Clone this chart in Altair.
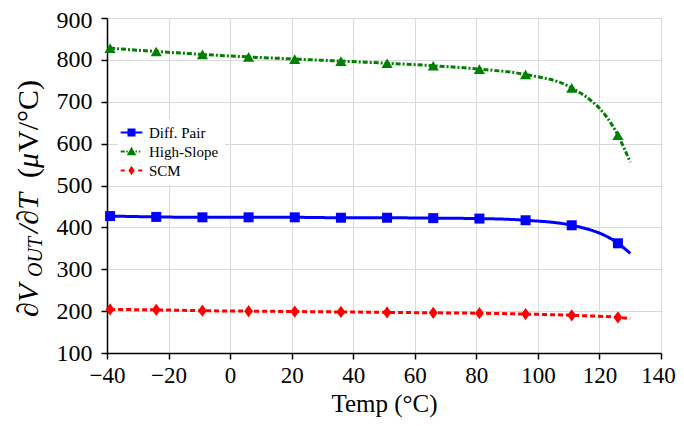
import altair as alt
import pandas as pd

# ---- data ----
temps = [-39, -24, -9, 6, 21, 36, 51, 66, 81, 96, 111, 126]
end_temp = 130
diff_pair = [427, 425, 424, 424, 424, 423, 423, 422, 421, 417, 405, 362]
diff_pair_end = 338
high_slope = [828, 820, 813, 807, 802, 797, 792, 786, 778, 765, 733, 620]
high_slope_end = 556
scm = [204, 203, 201, 200, 199, 198, 197, 196, 195, 193, 190, 185]
scm_end = 182

series = ["Diff. Pair", "High-Slope", "SCM"]
colors = ["#0000ff", "#008000", "#ff0000"]
x_ticks = [-40, -20, 0, 20, 40, 60, 80, 100, 120, 140]
y_ticks = [100, 200, 300, 400, 500, 600, 700, 800, 900]

values = {"Diff. Pair": (diff_pair, diff_pair_end),
          "High-Slope": (high_slope, high_slope_end),
          "SCM": (scm, scm_end)}

marker_rows, line_rows = [], []
for s in series:
    vals, endv = values[s]
    for t, v in zip(temps, vals):
        marker_rows.append({"temp": t, "val": v, "series": s})
        line_rows.append({"temp": t, "val": v, "series": s})
    line_rows.append({"temp": end_temp, "val": endv, "series": s})
markers = pd.DataFrame(marker_rows)
lines = pd.DataFrame(line_rows)

SERIF = "Liberation Serif"

xenc = alt.X("temp:Q", scale=alt.Scale(domain=[-40, 140], nice=False),
             axis=alt.Axis(values=x_ticks, title="Temp (°C)", labelPadding=5,
                           labelFontSize=23, labelFlush=False, titlePadding=4,
                           labelOffset={"condition": {"test": "datum.value == 140", "value": -3}, "value": 0}))
yenc = alt.Y("val:Q", scale=alt.Scale(domain=[100, 900], nice=False),
             axis=alt.Axis(values=y_ticks, title=None, labelPadding=9, labelFlush=False,
                           labelOffset={"condition": {"test": "datum.value == 900", "value": 2}, "value": 0}))

color_scale = alt.Scale(domain=series, range=colors)

line_layer = alt.Chart(lines).mark_line(strokeWidth=3, interpolate="monotone").encode(
    x=xenc, y=yenc,
    color=alt.Color("series:N", scale=color_scale, legend=None),
    strokeDash=alt.StrokeDash("series:N", scale=alt.Scale(domain=series, range=[[1, 0], [5, 2, 2, 2], [5, 3]]), legend=None),
    detail="series:N",
)

diamond = "M0,-1L0.72,0L0,1L-0.72,0Z"
point_layer = alt.Chart(markers).mark_point(filled=True, opacity=1).encode(
    x=xenc, y=yenc,
    color=alt.Color("series:N", scale=color_scale, legend=None),
    shape=alt.Shape("series:N", scale=alt.Scale(domain=series, range=["square", "triangle-up", diamond]), legend=None),
    size=alt.Size("series:N", scale=alt.Scale(domain=series, range=[100, 150, 150]), legend=None),
)

# legend symbols: line + marker drawn as one filled path
leg_blue = "M-2.17,-0.21H2.17V0.21H-2.17Z M-0.8,-0.8H0.8V0.8H-0.8Z"
leg_green = ("M-2.17,-0.21H-1.35V0.21H-2.17Z M-1.05,-0.21H-0.75V0.21H-1.05Z "
             "M0,-0.95L0.95,0.75L-0.95,0.75Z M0.8,-0.21H1.1V0.21H0.8Z M1.45,-0.21H1.75V0.21H1.45Z")
leg_red = ("M-2.17,-0.21H-1.35V0.21H-2.17Z M0,-0.95L0.62,0L0,0.95L-0.62,0Z "
           "M1.35,-0.21H2.17V0.21H1.35Z")

leg_props = dict(title=None, orient="none", legendX=11, legendY=101, fillColor="white",
                 padding=6, labelFont=SERIF, labelFontSize=15, labelColor="black",
                 labelOffset=10, rowPadding=3, symbolOpacity=1, symbolStrokeWidth=0)
legend_layer = alt.Chart(markers).mark_point(filled=True, opacity=0).encode(
    x=xenc, y=yenc,
    color=alt.Color("series:N", scale=color_scale, legend=alt.Legend(**leg_props)),
    shape=alt.Shape("series:N", scale=alt.Scale(domain=series, range=[leg_blue, leg_green, leg_red]),
                    legend=alt.Legend(**leg_props)),
    size=alt.value(144),
)

one = pd.DataFrame({"k": [0]})


def title_piece(txt, x, y, size, style):
    return alt.Chart(one).mark_text(text=txt, angle=270, align="left", baseline="alphabetic",
                                    font=SERIF, fontSize=size, fontStyle=style, color="black").encode(
        x=alt.value(x), y=alt.value(y))


pieces = [
    title_piece("∂V", -69, 299, 30, "italic"),
    title_piece("OUT", -65, 259, 20, "italic"),
    title_piece("/∂T", -69, 215, 30, "italic"),
    title_piece("(", -69, 160, 30, "normal"),
    title_piece("μ", -69, 150, 30, "italic"),
    title_piece("V/°C)", -69, 134, 30, "normal"),
]

chart = alt.layer(line_layer, point_layer, legend_layer, *pieces).resolve_scale(
    color="independent", shape="independent", size="independent", strokeDash="independent"
).properties(
    width=554, height=335,
    autosize=alt.AutoSizeParams(type="none"),
    padding={"left": 99, "top": 10, "right": 15, "bottom": 65},
).configure_view(stroke=None).configure_axis(
    grid=True, gridColor="#d9d9d9", gridWidth=1,
    domainColor="black", domainWidth=1.5, tickColor="black", tickWidth=1.5, tickSize=6,
    labelFont=SERIF, labelFontSize=24, labelColor="black",
    titleFont=SERIF, titleFontSize=25, titleFontWeight="normal", titleColor="black",
)

chart.save("out.html", embed_options={"renderer": "svg", "actions": False})
